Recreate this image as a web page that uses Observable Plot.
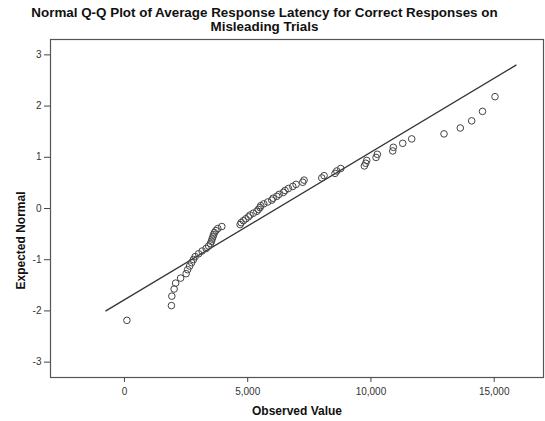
<!DOCTYPE html>
<html>
<head>
<meta charset="utf-8">
<script src="https://cdn.jsdelivr.net/npm/d3@7"></script>
<script src="https://cdn.jsdelivr.net/npm/@observablehq/plot@0.6"></script>
<style>
  html, body { margin: 0; padding: 0; background: #fff; }
  #wrap { width: 545px; height: 421px; position: relative; overflow: hidden; }
  #title {
    position: absolute; left: 0; top: 6px; width: 529px;
    text-align: center; font-family: Arial, "Liberation Sans", sans-serif;
    font-weight: bold; font-size: 13.4px; line-height: 14px; color: #111;
  }
  #chart { position: absolute; left: 0; top: 37px; }
</style>
</head>
<body>
<div id="wrap">
  <div id="title">Normal Q-Q Plot of Average Response Latency for Correct Responses on<br>Misleading Trials</div>
  <div id="chart"></div>
</div>
<script>
const observed = [100, 1906, 1922, 2015, 2076, 2279, 2502, 2563, 2644, 2725,
  2798, 2867, 3009, 3151, 3313, 3414, 3487, 3528, 3556, 3589,
  3617, 3650, 3710, 3787, 3950, 4692, 4732, 4825, 4923, 5028,
  5097, 5231, 5369, 5434, 5500, 5530, 5653, 5815, 5977, 6030,
  6180, 6273, 6447, 6516, 6650, 6829, 6962, 7234, 7287, 8005,
  8098, 8544, 8613, 8775, 9732, 9789, 9829, 10206, 10259, 10884,
  10908, 11289, 11654, 12964, 13625, 14087, 14525, 15032];
// Expected normal values
const expected = [-2.184, -1.896, -1.711, -1.572, -1.457, -1.359, -1.273, -1.195, -1.124, -1.058,
  -0.997, -0.939, -0.884, -0.831, -0.781, -0.733, -0.686, -0.641, -0.597, -0.554,
  -0.512, -0.471, -0.431, -0.391, -0.352, -0.314, -0.276, -0.238, -0.201, -0.164,
  -0.128, -0.091, -0.055, -0.018, 0.018, 0.055, 0.091, 0.128, 0.164, 0.201,
  0.238, 0.276, 0.314, 0.352, 0.391, 0.431, 0.471, 0.512, 0.554, 0.597,
  0.641, 0.686, 0.733, 0.781, 0.831, 0.884, 0.939, 0.997, 1.058, 1.124,
  1.195, 1.273, 1.359, 1.457, 1.572, 1.711, 1.896, 2.184];
// Reference line ends (observed value, expected normal)
const lineObserved = [-754, 15884];
const lineExpected = [-2.0, 2.8];
const xTicks = [0, 5000, 10000, 15000];
const yTicks = [-3, -2, -1, 0, 1, 2, 3];
const xLabel = "Observed Value";
const yLabel = "Expected Normal";

const points = observed.map((v, i) => ({x: v, y: expected[i]}));
const lineData = lineObserved.map((v, i) => ({x: v, y: lineExpected[i]}));

const chart = Plot.plot({
  width: 545,
  height: 384,
  marginTop: 2,
  marginBottom: 44,
  marginLeft: 50,
  marginRight: 2,
  style: {fontFamily: "Arial, 'Liberation Sans', sans-serif", fontSize: "10px", color: "#333", background: "#fff", overflow: "visible"},
  x: {domain: [-3000, 17000]},
  y: {domain: [-3.3, 3.3]},
  marks: [
    Plot.frame({stroke: "#555", strokeWidth: 1.2}),
    Plot.axisX(xTicks, {tickSize: 5, tickPadding: 5, tickFormat: d3.format(","), label: null, stroke: "#444"}),
    Plot.axisY(yTicks, {tickSize: 6, tickPadding: 3, tickFormat: d => String(d), label: null, stroke: "#444"}),
    Plot.line(lineData, {x: "x", y: "y", stroke: "#333", strokeWidth: 1.3}),
    Plot.dot(points, {x: "x", y: "y", r: 3.3, stroke: "#444", strokeWidth: 1, fill: "none"}),
    Plot.text([xLabel], {text: d => d, frameAnchor: "bottom", textAnchor: "middle", lineAnchor: "middle", dy: 33.5, fontWeight: "bold", fontSize: 12, fill: "#111"}),
    Plot.text([yLabel], {text: d => d, frameAnchor: "left", textAnchor: "middle", lineAnchor: "middle", dx: -29, dy: 32, rotate: -90, fontWeight: "bold", fontSize: 12, fill: "#111"})
  ]
});
document.getElementById("chart").appendChild(chart);
</script>
</body>
</html>
